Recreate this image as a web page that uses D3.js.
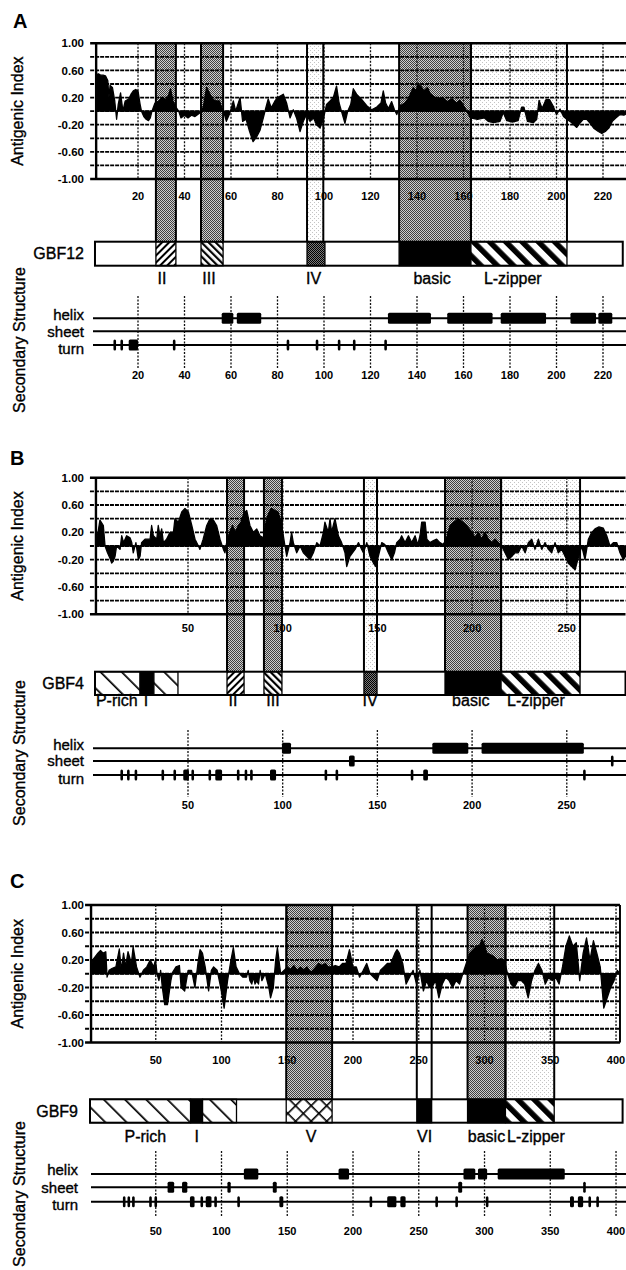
<!DOCTYPE html>
<html>
<head>
<meta charset="utf-8">
<script src="https://cdn.jsdelivr.net/npm/d3@7"></script>
<style>
body { margin: 0; background: #fff; }
text { font-family: "Liberation Sans", Arial, Helvetica, sans-serif; fill: #000; }
.lab { stroke: #000; stroke-width: 0.35px; }
</style>
</head>
<body>
<svg id="svg" width="626" height="1270"></svg>
<script>
// ---------- data ----------
const gridValues = [-1, -0.8, -0.6, -0.4, -0.2, 0, 0.2, 0.4, 0.6, 0.8, 1];
const yTickValues = [1, 0.6, 0.2, -0.2, -0.6, -1];
const yTickLabels = ['1.00', '0.60', '0.20', '-0.20', '-0.60', '-1.00'];

// GBF12 (A)
const gbf12Ticks = [20, 40, 60, 80, 100, 120, 140, 160, 180, 200, 220];
const gbf12Index = [[2,0.54],[3,0.55],[4,0.53],[5,0.53],[6,0.52],[7,0.45],[7.5,0.2],[8,0.38],[9,0.35],[10,0.15],[10.8,-0.12],[11.5,0.1],[12.5,0.27],[13.5,0.0],[14.5,0.15],[16,0.18],[17,0.25],[18,0.3],[19,0.32],[20,0.3],[20.9,0.1],[21.5,0],[22.5,-0.08],[23.5,-0.12],[24.5,-0.14],[25.3,-0.1],[26,0],[27.3,0.12],[29,0.15],[30.5,0.2],[32,0.17],[33,0.22],[34,0.33],[35,0.15],[36.5,0.05],[37.5,0],[38.5,-0.1],[40,-0.06],[41.5,-0.1],[43,-0.06],[44.5,-0.08],[46,-0.04],[47.5,0],[48.3,0.1],[49.5,0.35],[50.5,0.28],[52,0.18],[53.5,0.15],[55,0.15],[56,0.05],[56.8,0],[58,-0.15],[59.5,-0.03],[61,0.15],[62,0.0],[63.9,0.2],[65,-0.15],[66.5,-0.12],[68,-0.3],[69.5,-0.45],[71,-0.38],[72.5,-0.28],[73.9,-0.1],[75,0.05],[76,0.18],[77.3,0.05],[78.9,0.15],[80,0.2],[81,0.22],[82.5,0.25],[83.9,0.12],[85.4,-0.1],[86.8,0.02],[88.2,-0.1],[89.7,-0.3],[91.1,-0.15],[92.5,-0.05],[94,-0.15],[95.5,-0.1],[96.8,-0.2],[98.3,-0.25],[99.7,-0.12],[101.1,0.1],[102.6,0.15],[104,0.2],[105.4,0.37],[106.5,0.12],[107.5,0.0],[109,-0.18],[110.2,0.0],[111.5,0.1],[112.6,0.33],[114,0.25],[116,0.18],[118.4,0.08],[120.5,0.02],[122.7,0.06],[124.5,0.12],[125.5,0.3],[126.5,0.12],[127.7,0.04],[129.1,0.14],[130.3,0.02],[131.3,-0.05],[132.7,0.08],[134.8,0.12],[136.5,0.2],[138.4,0.35],[139.5,0.3],[140.6,0.4],[141.8,0.36],[143,0.3],[144.5,0.35],[145.6,0.26],[147,0.22],[149,0.18],[151,0.2],[153,0.14],[155,0.18],[157,0.12],[158.5,0.16],[160,0.08],[161.4,0.0],[163,-0.1],[166,-0.12],[169,-0.1],[170.6,-0.15],[173,-0.17],[175.7,-0.15],[177.1,-0.02],[178.6,-0.14],[181,-0.16],[183.5,-0.14],[185,0.06],[186,0.06],[187.5,-0.15],[190,-0.17],[191.5,-0.12],[192.5,0.16],[193.8,0.04],[195.5,0.17],[197,0.17],[198.5,0.08],[200,-0.05],[201.5,0.03],[203,-0.08],[204.4,-0.12],[205.8,-0.15],[207.5,-0.2],[208.7,-0.24],[210,-0.18],[211.5,-0.12],[213,-0.12],[214.5,-0.18],[216,-0.25],[218,-0.3],[219.5,-0.33],[221,-0.3],[222.5,-0.25],[224,-0.15],[225.5,-0.1],[227.3,-0.05],[229,-0.06],[230,-0.04]];
const gbf12Bands = [[27.7,36.3,'dark'],[47.1,56.6,'dark'],[92.7,99.7,'light'],[132.3,163.2,'dark'],[163.2,204.5,'light']];
const gbf12Domains = [[27.7,36.3,'fwd'],[47.1,56.6,'back'],[92.7,100.4,'stip'],[132.3,163.2,'solid'],[163.2,204.5,'zip']];
const gbf12Labels = [[30.3,'II'],[50.5,'III'],[95.5,'IV'],[146.5,'basic'],[181.2,'L-zipper']];
const gbf12Helix = [[56,61],[62.5,73],[127.5,146],[153,172.5],[176,195.5],[206,217],[218,224]];
const gbf12Sheet = [];
const gbf12Turn = [[10,10],[13,13],[16,20],[35,36],[84.5,84.5],[97,97],[106.5,106.5],[113,113],[126.5,126.5]];

// GBF4 (B)
const gbf4Ticks = [50, 100, 150, 200, 250];
const gbf4Index = [[1.4,0.1],[2.5,0.2],[3.5,0.38],[5.3,0.3],[6.2,0.0],[7.5,-0.1],[8.8,-0.18],[9.7,-0.25],[10.6,-0.22],[11.5,-0.15],[12.3,0.0],[14.1,-0.05],[15,0.15],[16,0.05],[17.6,0.15],[19.4,0.12],[20.3,0.05],[21.1,-0.1],[22.5,0.05],[23.8,-0.2],[24.7,-0.15],[25.5,0.05],[27.3,0.1],[30,0.1],[30.8,0.3],[31.7,0.15],[33.5,0.1],[34.3,0.3],[35.2,0.15],[36.1,0.25],[37,0.05],[38.7,0.1],[40.5,0.2],[42.3,0.2],[43.1,0.4],[44.9,0.35],[46.7,0.5],[48.4,0.55],[50.2,0.5],[52,0.3],[53.7,0.1],[55.5,0.0],[56.3,-0.05],[58,0.1],[59.9,0.3],[61.6,0.4],[63.4,0.38],[65.1,0.3],[66.9,0.1],[68.7,-0.05],[69.5,-0.1],[70.4,0.05],[72,0.2],[73.5,0.3],[75,0.2],[76.6,0.3],[78,0.35],[79.5,0.48],[81,0.52],[82.7,0.3],[84.5,0.2],[86.3,0.25],[88,0.15],[89.8,0.12],[91.5,0.4],[93,0.5],[94,0.55],[96,0.52],[97.5,0.5],[98.6,0.4],[99.5,0.3],[101.2,0.0],[102.1,-0.15],[103.9,0.05],[104.7,0.2],[105.6,0.05],[107.4,-0.1],[109.2,0.0],[110.9,-0.1],[112.7,-0.15],[114.4,-0.2],[116.2,-0.1],[118,0.05],[119.7,0.0],[121.5,0.2],[122.3,0.35],[124.1,0.2],[125,0.4],[125.8,0.2],[127.6,0.4],[129.4,0.15],[131.1,0.05],[132.9,-0.1],[133.8,-0.3],[135.5,-0.15],[138.2,-0.05],[140,0.05],[141.7,-0.05],[142.6,-0.1],[144.4,0.05],[146.1,-0.15],[147.9,-0.25],[149.1,-0.3],[150.5,-0.15],[152.3,0.05],[154,0.02],[155.8,-0.1],[157.6,-0.2],[159,-0.1],[160.2,0.05],[162,0.1],[162.8,0.15],[164.6,0.05],[166.4,0.15],[168.1,0.05],[169.9,0.15],[171.3,0.02],[172.5,0.15],[173.4,0.35],[175.2,0.35],[176.1,0.1],[177.8,0.05],[179.6,0.08],[181.3,0.1],[183,0.05],[184.8,0.02],[186.6,0.12],[188.4,0.3],[190.5,0.35],[192.8,0.4],[195,0.35],[197,0.3],[198.5,0.25],[199.8,0.2],[201.6,0.12],[203.4,0.2],[205,0.1],[206.8,0.2],[208.6,0.1],[210.4,0.05],[212.2,0.1],[213.9,0.05],[215.6,0.0],[217.4,-0.1],[219.2,-0.2],[221,-0.15],[222.6,-0.1],[224.4,-0.1],[226.2,0.0],[228,-0.1],[229.7,0.05],[231.5,0.1],[233.2,-0.05],[235,0.1],[236.8,-0.05],[238.5,0.05],[240.3,-0.05],[242,-0.1],[243.8,0.05],[245.5,-0.1],[247.3,-0.05],[249.1,-0.15],[250.8,-0.25],[252.6,-0.3],[254.4,-0.35],[255.8,-0.2],[257.9,0.0],[259.6,-0.2],[261.4,0.1],[263.2,0.2],[264.9,0.25],[267,0.28],[269.3,0.26],[271.1,0.15],[272.8,0.0],[274.6,0.05],[276.4,0.05],[278.1,-0.1],[279.9,-0.2],[281,-0.15]];
const gbf4Bands = [[70.6,79.6,'dark'],[90.1,99.6,'dark'],[142.9,149.8,'light'],[185.7,215.3,'dark'],[215.3,257,'light']];
const gbf4Domains = [[0.9,24.7,'prich'],[24.7,32,'solid'],[32,44.7,'prich'],[70.6,79.6,'fwd'],[90.1,99.6,'back'],[142.9,149.8,'stip'],[185.7,215.3,'solid'],[215.3,257,'zip']];
const gbf4Labels = [[1.4,'P-rich','start'],[27.8,'I'],[73.7,'II'],[94.9,'III'],[146.1,'IV'],[199.3,'basic'],[233.7,'L-zipper']];
const gbf4Helix = [[99.6,104.4],[179,198],[205,259]];
const gbf4Sheet = [[135,138],[274,274]];
const gbf4Turn = [[15,15],[18.5,18.5],[22.5,22.5],[36.7,36.7],[43,43],[47.5,50.5],[52.5,52.5],[61.5,61.5],[64.4,68],[76.5,76.5],[80.6,80.6],[82.8,83.4],[93.3,96.5],[122.8,122.8],[128.6,128.6],[168.3,168.3],[174.2,176.7],[259.3,259.3]];

// GBF9 (C)
const gbf9Ticks = [50, 100, 150, 200, 250, 300, 350, 400];
const gbf9Index = [[0.8,0.1],[2,0.2],[4,0.25],[6,0.3],[8,0.34],[10,0.3],[12,0.32],[13,-0.05],[14.5,0.05],[17,0.08],[19.7,0.1],[22.3,0.36],[23.8,0.05],[25.5,0.3],[27,0.1],[28.9,0.32],[31.5,0.15],[32.8,0.39],[35.4,0.1],[38,-0.05],[40.6,0.05],[43.2,0.1],[45.8,0.2],[48.4,0.1],[49.8,0.2],[51,0.0],[52.4,-0.1],[53.7,0.05],[55,-0.2],[56.8,-0.45],[58.9,-0.45],[61.5,-0.1],[62.8,0.02],[65.4,0.1],[68,0.12],[69.3,-0.2],[72,-0.25],[74.6,0.05],[77.2,0.05],[79.8,-0.2],[82.4,0.2],[83.7,0.35],[85.5,0.3],[87.6,0.1],[90.2,-0.25],[92.3,0.05],[94,0.1],[96.7,0.05],[99.4,-0.2],[102,-0.5],[104.6,-0.1],[107.2,0.2],[109,0.38],[111.1,0.1],[113.7,0.0],[116.3,-0.05],[119,-0.05],[120.3,0.05],[121.6,-0.1],[123,-0.15],[124.2,-0.05],[125.5,-0.15],[126.8,-0.1],[128.1,-0.15],[129.4,0.05],[130.7,-0.1],[133.3,0.0],[136,-0.2],[137.3,-0.35],[139.4,-0.2],[141.2,0.2],[142.5,0.38],[145,0.0],[147.7,0.05],[150,0.1],[152.5,0.06],[155,0.12],[157.5,0.05],[160,0.1],[162.5,0.06],[165,0.1],[166.5,0.05],[168,0.02],[171,0.08],[174,0.15],[176.5,0.12],[179,0.15],[181,0.1],[184,0.1],[186.5,0.12],[189.5,0.1],[192,0.15],[194.7,0.15],[197.3,0.35],[199.9,0.1],[202.5,0.1],[205,-0.05],[207.8,0.05],[210.4,0.15],[213,0.0],[215.7,-0.05],[218.3,-0.1],[220.9,0.05],[223.5,0.1],[226.1,0.15],[228.7,0.15],[231.9,0.3],[233.5,0.35],[235.2,0.3],[237.8,0.15],[240.4,-0.15],[243,-0.05],[245.7,0.05],[248.3,-0.15],[250.9,0.05],[253.5,-0.25],[256,-0.1],[258,-0.2],[260,-0.2],[262.7,-0.1],[265.3,-0.35],[267.9,-0.15],[270.5,-0.05],[273.1,-0.1],[275.7,-0.2],[278.3,-0.1],[281,-0.15],[283.5,0.0],[286.1,0.15],[288.8,0.3],[291.4,0.35],[294,0.4],[296.6,0.42],[298,0.5],[299.2,0.45],[301.8,0.3],[304.4,0.28],[307,0.25],[309.7,0.2],[312.3,0.22],[315,0.2],[317.5,0.0],[320.1,-0.15],[322.7,-0.2],[325.3,-0.1],[328,-0.1],[330.6,-0.15],[333.2,-0.35],[335.8,-0.1],[338.4,0.05],[341,0.15],[343.6,0.05],[346.2,-0.15],[348.8,-0.05],[351.5,-0.1],[354.1,-0.05],[356.7,-0.15],[359.3,0.1],[361.9,0.4],[364.5,0.55],[367.2,0.4],[369.8,0.45],[372.4,-0.1],[375,0.3],[377.6,0.52],[380.2,0.2],[382.8,0.48],[385.4,0.3],[388,0.1],[390.7,-0.5],[393.3,-0.35],[395.9,-0.2],[398.5,-0.1],[401,0.05],[403,0.0]];
const gbf9Bands = [[149.2,184.1,'dark'],[248.5,259.8,'none'],[287.1,315.9,'dark'],[315.9,353,'light']];
const gbf9Domains = [[0,76.5,'prich'],[76.5,85.6,'solid'],[85.6,111.4,'prich'],[149.2,184.1,'cross'],[248.5,259.8,'solid'],[287.1,315.9,'solid'],[315.9,353,'zip']];
const gbf9Labels = [[42.1,'P-rich'],[81.1,'I'],[168.2,'V'],[254.5,'VI'],[301.5,'basic'],[339.1,'L-zipper']];
const gbf9Helix = [[117,128],[189,197],[284,293],[295,302],[310,361]];
const gbf9Sheet = [[59,64],[70,74],[104.5,107],[139,142],[280,283],[376,376]];
const gbf9Turn = [[26,26],[29.5,29.5],[32,34],[46,46],[50,50],[76,79.5],[85,85],[88,92.4],[95.5,95.5],[113,113],[144,147],[213.6,213.6],[226,233],[236,240],[263.6,263.6],[278.8,278.8],[302,302],[365,368],[371,375],[380,380],[386,386]];

// ---------- drawing ----------
const svg = d3.select('#svg');
const defs = svg.append('defs');

function stripes(id, angle, period, w) {
  const p = defs.append('pattern').attr('id', id)
    .attr('patternUnits', 'userSpaceOnUse')
    .attr('width', period).attr('height', period)
    .attr('patternTransform', 'rotate(' + angle + ')');
  p.append('rect').attr('width', period).attr('height', period).attr('fill', '#fff');
  p.append('rect').attr('width', w).attr('height', period).attr('fill', '#000');
}
stripes('fwd', 45, 5, 2);
stripes('back', -45, 5, 2.2);
stripes('zip', -45, 11.5, 5.5);
stripes('prich', -45, 15, 1.7);

var cross = defs.append('pattern').attr('id', 'cross')
  .attr('patternUnits', 'userSpaceOnUse').attr('width', 11).attr('height', 11)
  .attr('patternTransform', 'rotate(45)');
cross.append('rect').attr('width', 11).attr('height', 11).attr('fill', '#fff');
cross.append('rect').attr('width', 1.6).attr('height', 11).attr('fill', '#000');
cross.append('rect').attr('width', 11).attr('height', 1.6).attr('fill', '#000');

function dots(id, size, bg, pts, col) {
  const p = defs.append('pattern').attr('id', id)
    .attr('patternUnits', 'userSpaceOnUse').attr('width', size).attr('height', size);
  p.append('rect').attr('width', size).attr('height', size).attr('fill', bg);
  pts.forEach(function(q) {
    p.append('rect').attr('x', q[0]).attr('y', q[1]).attr('width', 1).attr('height', 1).attr('fill', col);
  });
}
dots('dark', 2, '#cdcdcd', [[0,0],[1,1]], '#404040');
dots('light', 4, '#fff', [[0,0],[2,2]], '#c4c4c4');
dots('stip', 2, '#7a7a7a', [[0,0],[1,1]], '#000');

function panel(p) {
  const g = svg.append('g');
  const x = d3.scaleLinear().domain(p.xDomain).range(p.xRange);
  const y = d3.scaleLinear().domain([-1, 1]).range(p.yRange);
  const left = x(p.start);
  const right = x(p.end);

  // letter and rotated titles
  g.append('text').attr('x', p.letter[0]).attr('y', p.letter[1])
    .style('font-size', '20px').style('font-weight', 'bold').text(p.letter[2]);
  g.append('text').attr('class', 'lab')
    .attr('transform', 'translate(23,' + (y(1) + y(-1)) / 2 + ') rotate(-90)')
    .attr('text-anchor', 'middle').style('font-size', '16px').text('Antigenic Index');
  g.append('text').attr('class', 'lab')
    .attr('transform', 'translate(25,' + p.secY + ') rotate(-90)')
    .attr('text-anchor', 'middle').style('font-size', '16px').text('Secondary Structure');

  // shaded regions from the plot down to the domain bar
  g.selectAll('.band').data(p.bands.filter(d => d[2] !== 'none')).enter().append('rect')
    .attr('x', d => x(d[0])).attr('width', d => x(d[1]) - x(d[0]))
    .attr('y', y(1)).attr('height', p.barTop - y(1))
    .attr('fill', d => 'url(#' + d[2] + ')');

  // grid
  g.selectAll('.hgrid').data(gridValues).enter().append('line')
    .attr('x1', left - 6).attr('x2', right)
    .attr('y1', d => y(d)).attr('y2', d => y(d))
    .attr('stroke', '#000')
    .attr('stroke-width', d => Math.abs(d) === 1 ? 2.4 : 1.8)
    .attr('stroke-dasharray', d => Math.abs(d) === 1 ? null : '4,1');
  g.selectAll('.vgrid').data(p.ticks).enter().append('line')
    .attr('x1', d => x(d)).attr('x2', d => x(d))
    .attr('y1', y(1)).attr('y2', y(-1))
    .attr('stroke', '#111').attr('stroke-width', 1.3).attr('stroke-dasharray', '2,1.5');

  // antigenic index profile
  const area = d3.area().x(d => x(d[0])).y0(y(0)).y1(d => y(d[1]));
  g.append('path').datum(p.index).attr('d', area)
    .attr('fill', '#000').attr('stroke', '#000').attr('stroke-width', 1.3)
    .attr('stroke-linejoin', 'round');

  // frame
  g.append('line').attr('x1', left).attr('x2', left).attr('y1', y(1)).attr('y2', y(-1))
    .attr('stroke', '#000').attr('stroke-width', 2.4);
  if (p.rightFrame) {
    g.append('line').attr('x1', right).attr('x2', right).attr('y1', y(1)).attr('y2', y(-1))
      .attr('stroke', '#000').attr('stroke-width', 2);
  }

  // axis labels
  g.selectAll('.ylab').data(yTickValues).enter().append('text')
    .attr('x', 84).attr('y', d => y(d)).attr('dy', '0.36em')
    .attr('text-anchor', 'end').style('font-size', '11.5px').style('font-weight', 'bold')
    .text((d, i) => yTickLabels[i]);
  g.selectAll('.xlab').data(p.ticks).enter().append('text')
    .attr('x', d => x(d)).attr('y', p.tickY)
    .attr('text-anchor', 'middle').style('font-size', '11px').style('font-weight', 'bold')
    .text(d => d);

  // region edges
  const edges = [];
  p.bands.forEach(d => { edges.push(d[0]); edges.push(d[1]); });
  g.selectAll('.edge').data(edges).enter().append('line')
    .attr('x1', d => x(d)).attr('x2', d => x(d))
    .attr('y1', y(1)).attr('y2', p.barTop)
    .attr('stroke', '#000').attr('stroke-width', 2);

  // domain bar
  const barH = p.barBottom - p.barTop;
  g.append('rect').attr('x', x(p.barStart)).attr('y', p.barTop)
    .attr('width', x(p.barEnd) - x(p.barStart)).attr('height', barH).attr('fill', '#fff');
  g.selectAll('.dom').data(p.domains).enter().append('rect')
    .attr('x', d => x(d[0])).attr('width', d => x(d[1]) - x(d[0]))
    .attr('y', p.barTop).attr('height', barH)
    .attr('fill', d => d[2] === 'solid' ? '#000' : 'url(#' + d[2] + ')')
    .attr('stroke', '#000').attr('stroke-width', 1.3);
  g.append('rect').attr('x', x(p.barStart)).attr('y', p.barTop)
    .attr('width', x(p.barEnd) - x(p.barStart)).attr('height', barH)
    .attr('fill', 'none').attr('stroke', '#000').attr('stroke-width', 2);
  g.append('text').attr('class', 'lab')
    .attr('x', p.nameX).attr('y', (p.barTop + p.barBottom) / 2).attr('dy', '0.36em')
    .attr('text-anchor', 'end').style('font-size', '16px').text(p.name);
  g.selectAll('.dlab').data(p.labels).enter().append('text').attr('class', 'lab')
    .attr('x', d => x(d[0])).attr('y', p.labelY)
    .attr('text-anchor', d => d[2] || 'middle').style('font-size', '16px')
    .text(d => d[1]);

  // secondary structure
  const rows = [['helix', p.helixY, p.helix, -4], ['sheet', p.sheetY, p.sheet, 0], ['turn', p.turnY, p.turn, 3.5]];
  g.selectAll('.ssgrid').data(p.ticks).enter().append('line')
    .attr('x1', d => x(d)).attr('x2', d => x(d))
    .attr('y1', p.ssTop).attr('y2', p.ssBottom)
    .attr('stroke', '#111').attr('stroke-width', 1.3).attr('stroke-dasharray', '2,1.5');
  rows.forEach(function(r) {
    g.append('line').attr('x1', p.ssStart).attr('x2', 626)
      .attr('y1', r[1]).attr('y2', r[1]).attr('stroke', '#000').attr('stroke-width', 2);
    g.append('text').attr('class', 'lab')
      .attr('x', p.nameX).attr('y', r[1] + r[3]).attr('dy', '0.35em')
      .attr('text-anchor', 'end').style('font-size', '15px').text(r[0]);
    g.selectAll('.ss-' + r[0]).data(r[2]).enter().append('rect')
      .attr('x', d => x(d[0]) - (d[1] === d[0] ? 1.3 : 0))
      .attr('width', d => Math.max(x(d[1]) - x(d[0]), 2.6))
      .attr('y', r[1] - 5.5).attr('height', 11).attr('rx', 1.5)
      .attr('fill', '#000');
  });
  g.selectAll('.sslab').data(p.ticks).enter().append('text')
    .attr('x', d => x(d)).attr('y', p.ssTickY)
    .attr('text-anchor', 'middle').style('font-size', '11px').style('font-weight', 'bold')
    .text(d => d);
}

panel({
  letter: [13, 27.5, 'A'], name: 'GBF12',
  xDomain: [0, 230], xRange: [91.5, 626.25], start: 2, end: 230,
  yRange: [179, 43.3], tickY: 200,
  ticks: gbf12Ticks, index: gbf12Index, bands: gbf12Bands, domains: gbf12Domains, labels: gbf12Labels,
  barStart: 1.5, barEnd: 228.5, barTop: 241.7, barBottom: 265.7, labelY: 283.5, nameX: 84,
  helix: gbf12Helix, sheet: gbf12Sheet, turn: gbf12Turn,
  helixY: 318.3, sheetY: 331.3, turnY: 345, ssTop: 296, ssBottom: 369, ssTickY: 379, ssStart: 93,
  secY: 340
});

panel({
  letter: [10, 465, 'B'], name: 'GBF4',
  xDomain: [0, 281], xRange: [93.3, 625.5], start: 1.4, end: 281,
  yRange: [614.3, 477.7], tickY: 632,
  ticks: gbf4Ticks, index: gbf4Index, bands: gbf4Bands, domains: gbf4Domains, labels: gbf4Labels,
  barStart: 0.9, barEnd: 281, barTop: 671.7, barBottom: 695, labelY: 706, nameX: 84,
  helix: gbf4Helix, sheet: gbf4Sheet, turn: gbf4Turn,
  helixY: 748.3, sheetY: 761, turnY: 775, ssTop: 730, ssBottom: 797, ssTickY: 809, ssStart: 93,
  secY: 753
});

panel({
  letter: [10, 888, 'C'], name: 'GBF9',
  xDomain: [0, 405], xRange: [90, 622.6], start: 0.8, end: 403, rightFrame: true,
  yRange: [1042.5, 905], tickY: 1064,
  ticks: gbf9Ticks, index: gbf9Index, bands: gbf9Bands, domains: gbf9Domains, labels: gbf9Labels,
  barStart: 0, barEnd: 405, barTop: 1099.3, barBottom: 1122.7, labelY: 1141.5, nameX: 78,
  helix: gbf9Helix, sheet: gbf9Sheet, turn: gbf9Turn,
  helixY: 1174, sheetY: 1187.3, turnY: 1201.7, ssTop: 1151, ssBottom: 1217, ssTickY: 1235, ssStart: 91,
  secY: 1194
});
</script>
</body>
</html>
